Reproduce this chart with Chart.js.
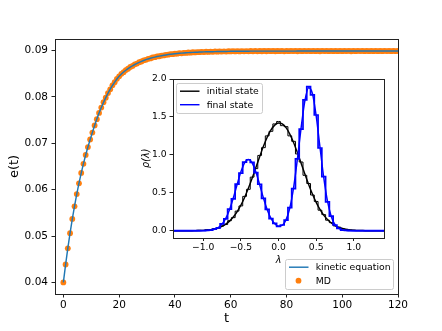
<!DOCTYPE html>
<html><head><meta charset="utf-8">
<script src="https://cdn.jsdelivr.net/npm/chart.js@4/dist/chart.umd.min.js"></script>
<style>
html,body{margin:0;padding:0;background:#fff;}
#wrap{position:relative;width:442px;height:331px;}
canvas{position:absolute;left:0;top:0;}
</style></head><body>
<div id="wrap"><canvas id="main" width="442" height="331"></canvas><canvas id="inset" width="442" height="331"></canvas></div>
<script>
// ---- main panel data ----
const tTimes = [0,0.8,1.6,2.4,3.2,4,4.8,5.6,6.4,7.2,8,8.8,9.6,10.4,11.2,12,12.8,13.6,14.4,15.2,16,16.8,17.6,18.4,19.2,20,20.8,21.6,22.4,23.2,24,24.8,25.6,26.4,27.2,28,28.8,29.6,30.4,31.2,32,32.8,33.6,34.4,35.2,36,36.8,37.6,38.4,39.2,40,40.8,41.6,42.4,43.2,44,44.8,45.6,46.4,47.2,48,48.8,49.6,50.4,51.2,52,52.8,53.6,54.4,55.2,56,56.8,57.6,58.4,59.2,60,60.8,61.6,62.4,63.2,64,64.8,65.6,66.4,67.2,68,68.8,69.6,70.4,71.2,72,72.8,73.6,74.4,75.2,76,76.8,77.6,78.4,79.2,80,80.8,81.6,82.4,83.2,84,84.8,85.6,86.4,87.2,88,88.8,89.6,90.4,91.2,92,92.8,93.6,94.4,95.2,96,96.8,97.6,98.4,99.2,100,100.8,101.6,102.4,103.2,104,104.8,105.6,106.4,107.2,108,108.8,109.6,110.4,111.2,112,112.8,113.6,114.4,115.2,116,116.8,117.6,118.4,119.2,120];
const kineticE = [0.04000,0.04384,0.04738,0.05065,0.05367,0.05645,0.05902,0.06140,0.06359,0.06561,0.06748,
0.06920,0.07079,0.07234,0.07384,0.07523,0.07653,0.07773,0.07883,0.07986,0.08080,
0.08167,0.08247,0.08321,0.08388,0.08449,0.08495,0.08537,0.08576,0.08611,0.08643,
0.08673,0.08700,0.08724,0.08747,0.08768,0.08787,0.08804,0.08820,0.08834,0.08848,
0.08860,0.08871,0.08881,0.08890,0.08899,0.08906,0.08914,0.08920,0.08926,0.08931,
0.08936,0.08941,0.08945,0.08949,0.08952,0.08956,0.08959,0.08961,0.08964,0.08966,
0.08968,0.08970,0.08972,0.08973,0.08975,0.08976,0.08977,0.08978,0.08979,0.08980,
0.08981,0.08982,0.08982,0.08983,0.08984,0.08984,0.08985,0.08985,0.08986,0.08986,
0.08987,0.08987,0.08987,0.08988,0.08988,0.08988,0.08988,0.08988,0.08989,0.08989,
0.08989,0.08989,0.08989,0.08989,0.08989,0.08989,0.08989,0.08989,0.08989,0.08989,
0.08989,0.08989,0.08989,0.08989,0.08990,0.08990,0.08990,0.08990,0.08990,0.08990,
0.08990,0.08990,0.08990,0.08990,0.08990,0.08990,0.08990,0.08990,0.08990,0.08990,
0.08990,0.08990,0.08990,0.08990,0.08990,0.08990,0.08990,0.08990,0.08990,0.08990,
0.08990,0.08990,0.08990,0.08990,0.08990,0.08990,0.08990,0.08990,0.08990,0.08990,
0.08990,0.08990,0.08990,0.08990,0.08990,0.08990,0.08990,0.08990,0.08990,0.08990];
const mdE = [0.04000,0.04386,0.04736,0.05062,0.05370,0.05642,0.05905,0.06138,0.06362,0.06558,0.06750,
0.06918,0.07082,0.07231,0.07387,0.07520,0.07656,0.07770,0.07886,0.07983,0.08083,
0.08164,0.08250,0.08318,0.08391,0.08446,0.08498,0.08534,0.08579,0.08608,0.08646,
0.08670,0.08703,0.08721,0.08750,0.08765,0.08790,0.08801,0.08823,0.08831,0.08851,
0.08857,0.08874,0.08878,0.08893,0.08896,0.08909,0.08911,0.08923,0.08923,0.08934,
0.08933,0.08944,0.08942,0.08952,0.08949,0.08959,0.08956,0.08964,0.08961,0.08969,
0.08965,0.08973,0.08969,0.08976,0.08972,0.08979,0.08974,0.08981,0.08976,0.08983,
0.08978,0.08985,0.08979,0.08986,0.08981,0.08987,0.08981,0.08988,0.08983,0.08989,
0.08984,0.08990,0.08984,0.08991,0.08985,0.08992,0.08985,0.08991,0.08986,0.08993,
0.08986,0.08992,0.08988,0.08993,0.08986,0.08991,0.08987,0.08994,0.08985,0.08992,
0.08987,0.08993,0.08989,0.08992,0.08986,0.08994,0.08987,0.08993,0.08989,0.08992,
0.08987,0.08995,0.08988,0.08992,0.08986,0.08994,0.08989,0.08993,0.08987,0.08994,
0.08988,0.08992,0.08988,0.08995,0.08987,0.08993,0.08989,0.08994,0.08986,0.08993,
0.08987,0.08994,0.08989,0.08992,0.08988,0.08995,0.08987,0.08993,0.08988,0.08994,
0.08988,0.08993,0.08987,0.08994,0.08989,0.08992,0.08988,0.08994,0.08987,0.08993];
const tTicks = [0,20,40,60,80,100,120];
const eTicks = [0.04,0.05,0.06,0.07,0.08,0.09];

// ---- inset data ----
const lambdaGrid = [-1.40,-1.35,-1.30,-1.25,-1.20,-1.15,-1.10,-1.05,-1.00,-0.95,-0.90,-0.85,-0.80,-0.75,-0.70,-0.65,-0.60,-0.55,-0.50,-0.45,-0.40,-0.35,-0.30,-0.25,-0.20,-0.15,-0.10,-0.05,0.00,0.05,0.10,0.15,0.20,0.25,0.30,0.35,0.40,0.45,0.50,0.55,0.60,0.65,0.70,0.75,0.80,0.85,0.90,0.95,1.00,1.05,1.10,1.15,1.20,1.25,1.30,1.35,1.40];
const initialSmooth = [0,0,0,0,0,0,
0.001,0.002,0.004,0.008,0.014,
0.023,0.037,0.057,0.086,0.126,
0.180,0.249,0.335,0.438,0.558,
0.691,0.832,0.975,1.112,1.232,
1.328,1.392,1.419,1.407,1.358,
1.274,1.163,1.031,0.890,0.747,
0.610,0.484,0.374,0.281,0.205,
0.146,0.101,0.068,0.044,0.028,
0.017,0.010,0.006,0.003,0.002,
0,0,0,0,0,0];
const initialHist = [0,0,0,0,0,0,
0.000,0.004,0.003,0.010,0.012,
0.027,0.033,0.062,0.081,0.132,
0.172,0.258,0.326,0.452,0.545,
0.706,0.818,0.992,1.095,1.250,
1.310,1.408,1.440,1.385,1.372,
1.250,1.178,1.012,0.905,0.730,
0.622,0.470,0.385,0.270,0.212,
0.138,0.106,0.063,0.047,0.025,
0.018,0.008,0.005,0.002,0.001,
0,0,0,0,0,0];
const finalSmooth = [0,0,0,0,0,0,0,0,
0.001,0.003,0.007,0.018,0.041,
0.086,0.162,0.277,0.430,0.606,
0.773,0.895,0.940,0.895,0.773,
0.606,0.431,0.277,0.163,0.092,
0.060,0.072,0.142,0.299,0.564,
0.937,1.356,1.712,1.885,1.809,
1.513,1.104,0.702,0.389,0.188,
0.079,0.029,0.009,0.003,0.001,
0,0,0,0,0,0,0,0,0];
const finalHist = [0,0,0,0,0,0,0,0,
0.000,0.004,0.006,0.020,0.038,
0.090,0.155,0.285,0.420,0.615,
0.760,0.905,0.935,0.900,0.765,
0.612,0.425,0.282,0.158,0.095,
0.057,0.075,0.138,0.305,0.555,
0.948,1.340,1.725,1.900,1.790,
1.525,1.090,0.712,0.380,0.192,
0.075,0.031,0.008,0.004,0.001,
0,0,0,0,0,0,0,0,0];
const lamTicks = [-1.0,-0.5,0.0,0.5,1.0];
const rhoTicks = [0.0,0.5,1.0,1.5,2.0];

// ---- helpers ----
const FAM = '"DejaVu Sans", sans-serif';
Chart.defaults.font.family = FAM;
Chart.defaults.color = '#000';
const pts = (xs, ys) => xs.map((x, i) => ({x: x, y: ys[i]}));
const setTicks = arr => (s => { s.ticks = arr.map(v => ({value: v})); });
const fmt1 = v => (v < 0 ? '\u2212' + Math.abs(v).toFixed(1) : v.toFixed(1));
const tickGrid = {drawOnChartArea: false, drawTicks: true, tickLength: 3.5, color: '#222', lineWidth: 1};

const framePlugin = {
  id: 'frame',
  afterDraw(chart) {
    const {ctx, chartArea: a} = chart;
    ctx.save();
    ctx.strokeStyle = '#222'; ctx.lineWidth = 1;
    const l = Math.round(a.left) + 0.5, t = Math.round(a.top) + 0.5;
    ctx.strokeRect(l, t, Math.round(a.right) - Math.round(a.left), Math.round(a.bottom) - Math.round(a.top));
    ctx.restore();
  }
};
function drawLegend(ctx, left, top, w, h, items) {
  ctx.save();
  ctx.fillStyle = 'rgba(255,255,255,0.85)';
  ctx.strokeStyle = '#cccccc'; ctx.lineWidth = 1;
  ctx.beginPath();
  if (ctx.roundRect) ctx.roundRect(left + 0.5, top + 0.5, w, h, 2); else ctx.rect(left + 0.5, top + 0.5, w, h);
  ctx.fill(); ctx.stroke();
  ctx.font = '9.3px ' + FAM; ctx.textBaseline = 'middle'; ctx.textAlign = 'left';
  items.forEach((it, i) => {
    const y = top + 8.2 + i * 13.5;
    if (it.type === 'line') {
      ctx.strokeStyle = it.color; ctx.lineWidth = it.width;
      ctx.beginPath(); ctx.moveTo(left + 4, y); ctx.lineTo(left + 23.5, y); ctx.stroke();
    } else {
      ctx.fillStyle = it.color;
      ctx.beginPath(); ctx.arc(left + 13.5, y, 2.9, 0, Math.PI * 2); ctx.fill();
    }
    ctx.fillStyle = '#000';
    ctx.fillText(it.label, left + 30.7, y + 0.5);
  });
  ctx.restore();
}
const mainLegend = {
  id: 'mainLegend',
  afterDraw(chart) {
    const a = chart.chartArea;
    drawLegend(chart.ctx, a.right - 113, a.bottom - 35, 108, 30, [
      {type: 'line', color: '#1f77b4', width: 1.44, label: 'kinetic equation'},
      {type: 'dot', color: '#ff7f0e', label: 'MD'}
    ]);
  }
};
const insetBg = {
  id: 'insetBg',
  beforeDraw(chart) {
    const {ctx, chartArea: a} = chart;
    ctx.save(); ctx.fillStyle = '#fff';
    ctx.fillRect(a.left, a.top, a.right - a.left, a.bottom - a.top);
    ctx.restore();
  }
};
const insetLegend = {
  id: 'insetLegend',
  afterDraw(chart) {
    const a = chart.chartArea;
    drawLegend(chart.ctx, a.left + 3, a.top + 4, 86, 30, [
      {type: 'line', color: '#000000', width: 1.44, label: 'initial state'},
      {type: 'line', color: '#0000ff', width: 1.44, label: 'final state'}
    ]);
  }
};

// ---- main chart ----
new Chart(document.getElementById('main'), {
  type: 'line',
  data: {datasets: [
    {label: 'kinetic equation', data: pts(tTimes, kineticE), borderColor: '#1f77b4', borderWidth: 1.44, pointRadius: 0, fill: false, tension: 0, clip: 0},
    {label: 'MD', data: pts(tTimes, mdE), showLine: false, pointRadius: 2.9, pointBorderWidth: 0, pointBackgroundColor: '#ff7f0e', backgroundColor: '#ff7f0e', borderColor: '#ff7f0e', clip: 0}
  ]},
  options: {
    responsive: false, animation: false, devicePixelRatio: 1,
    layout: {padding: {left: 0, top: 39, right: 44, bottom: 0}},
    plugins: {legend: {display: false}, tooltip: {enabled: false}},
    scales: {
      x: {type: 'linear', min: -3, max: 120, afterBuildTicks: setTicks(tTicks), afterFit: s => { s.height = 37; },
        ticks: {font: {size: 10.5}, padding: 1, maxRotation: 0, autoSkip: false, callback: v => String(v)},
        grid: tickGrid, border: {display: false},
        title: {display: true, text: 't', font: {size: 13}, padding: {top: 0, bottom: 4.5}}},
      y: {type: 'linear', min: 0.0375, max: 0.0925, afterBuildTicks: setTicks(eTicks), afterFit: s => { s.width = 55; },
        ticks: {font: {size: 10.5}, padding: 3.5, autoSkip: false, callback: v => v.toFixed(2)},
        grid: tickGrid, border: {display: false},
        title: {display: true, text: 'e(t)', font: {size: 13}, padding: {top: 7, bottom: 0}}}
    }
  },
  plugins: [framePlugin, mainLegend]
});

// ---- inset chart ----
new Chart(document.getElementById('inset'), {
  type: 'line',
  data: {datasets: [
    {label: 'final state (hist)', data: pts(lambdaGrid, finalHist), borderColor: '#0000ff', borderWidth: 1.7, stepped: 'middle', pointRadius: 0, fill: false, clip: 0},
    {label: 'final state', data: pts(lambdaGrid, finalSmooth), borderColor: '#0000ff', borderWidth: 1.44, pointRadius: 0, fill: false, cubicInterpolationMode: 'monotone', clip: 0},
    {label: 'initial state (hist)', data: pts(lambdaGrid, initialHist), borderColor: '#000000', borderWidth: 1, stepped: 'middle', pointRadius: 0, fill: false, clip: 0},
    {label: 'initial state', data: pts(lambdaGrid, initialSmooth), borderColor: '#000000', borderWidth: 1.44, pointRadius: 0, fill: false, cubicInterpolationMode: 'monotone', clip: 0}
  ]},
  options: {
    responsive: false, animation: false, devicePixelRatio: 1,
    layout: {padding: {left: 133, top: 79, right: 58, bottom: 60}},
    plugins: {legend: {display: false}, tooltip: {enabled: false}},
    scales: {
      x: {type: 'linear', min: -1.4, max: 1.4, afterBuildTicks: setTicks(lamTicks), afterFit: s => { s.height = 33.5; },
        ticks: {font: {size: 9.2}, padding: 1, maxRotation: 0, autoSkip: false, callback: fmt1},
        grid: tickGrid, border: {display: false},
        title: {display: true, text: 'λ', font: {size: 9.6, style: 'italic'}, padding: {top: 0, bottom: 5.2}}},
      y: {type: 'linear', min: -0.09, max: 2.0, afterBuildTicks: setTicks(rhoTicks), afterFit: s => { s.width = 40; },
        ticks: {font: {size: 9.2}, padding: 3, autoSkip: false, callback: fmt1},
        grid: tickGrid, border: {display: false},
        title: {display: true, text: 'ρ(λ)', font: {size: 9.6, style: 'italic'}, padding: {top: 8.2, bottom: 0}}}
    }
  },
  plugins: [insetBg, framePlugin, insetLegend]
});
</script>
</body></html>
